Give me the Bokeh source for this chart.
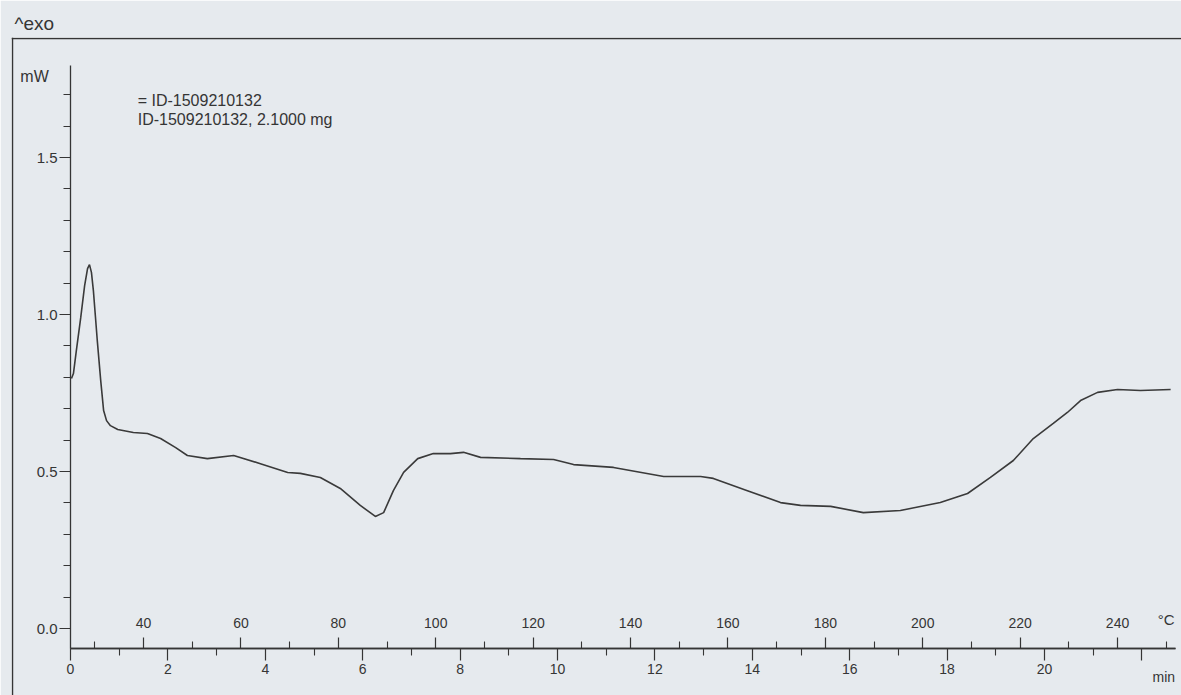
from bokeh.plotting import figure
from bokeh.models import Range1d, LinearAxis, FixedTicker, Label, Span, PrintfTickFormatter
from bokeh.embed import file_html
from bokeh.resources import INLINE

# ---- data ----
time_min = [0.02, 0.06, 0.12, 0.21, 0.29, 0.35, 0.39, 0.43, 0.47, 0.51, 0.55, 0.62,
            0.68, 0.74, 0.82, 0.97, 1.29, 1.58, 1.85, 2.16, 2.40, 2.81, 3.35, 3.90,
            4.46, 4.72, 5.13, 5.54, 5.95, 6.26, 6.43, 6.63, 6.84, 7.13, 7.45, 7.80,
            8.07, 8.42, 9.24, 9.92, 10.33, 11.15, 12.18, 12.94, 13.20, 13.90, 14.58,
            14.99, 15.61, 16.28, 17.04, 17.86, 18.42, 18.89, 19.36, 19.77, 20.18,
            20.47, 20.74, 21.09, 21.50, 21.97, 22.59]
heat_flow_mw = [0.796, 0.812, 0.885, 0.990, 1.092, 1.146, 1.159, 1.134, 1.076, 0.997, 0.917, 0.790,
                0.694, 0.662, 0.646, 0.634, 0.624, 0.621, 0.605, 0.576, 0.551, 0.541, 0.551, 0.525,
                0.497, 0.494, 0.481, 0.446, 0.392, 0.357, 0.369, 0.439, 0.497, 0.541, 0.557, 0.557,
                0.561, 0.545, 0.541, 0.538, 0.522, 0.513, 0.484, 0.484, 0.478, 0.439, 0.401,
                0.392, 0.389, 0.369, 0.376, 0.401, 0.430, 0.481, 0.535, 0.605, 0.653,
                0.688, 0.726, 0.752, 0.761, 0.758, 0.761]

time_ticks = [0, 2, 4, 6, 8, 10, 12, 14, 16, 18, 20, 22]
time_minor_ticks = [1, 3, 5, 7, 9, 11, 13, 15, 17, 19, 21]
time_label_overrides = {22: ""}
time_unit = "min"
temp_ticks = [40, 60, 80, 100, 120, 140, 160, 180, 200, 220, 240]
temp_minor_ticks = [30, 50, 70, 90, 110, 130, 150, 170, 190, 210, 230, 250]
temp_unit = "°C"
mw_ticks = [0.0, 0.5, 1.0, 1.5]
mw_minor_ticks = [0.1, 0.2, 0.3, 0.4, 0.6, 0.7, 0.8, 0.9, 1.1, 1.2, 1.3, 1.4, 1.6, 1.7]
start_temp_c = 25.0
heating_rate = 10.0   # K/min
legend_line1 = "= ID-1509210132"
legend_line2 = "ID-1509210132, 2.1000 mg"
y_unit = "mW"
exo_label = "^exo"

# ---- layout ----
W, H = 1181, 695
frame_left, frame_top = 11, 37
px_per_min, px_per_mw = 48.7, 314.0
t0_px, v0_px = 59.0, 591.0
x0 = -t0_px / px_per_min
x1 = x0 + (W - frame_left) / px_per_min
y1 = v0_px / px_per_mw
y0 = y1 - (H - frame_top) / px_per_mw
axis_v = -0.064
axis_top = 1.793
axis_end_t = 22.69

paper = "#e6eaee"
ink = "#353535"
font = "Liberation Sans"

p = figure(width=W, height=H, x_range=Range1d(x0, x1), y_range=Range1d(y0, y1),
           output_backend="svg", toolbar_location=None, x_axis_type=None, y_axis_type=None,
           min_border_left=frame_left, min_border_right=0, min_border_top=frame_top,
           min_border_bottom=0, title=exo_label)
p.background_fill_color = paper
p.border_fill_color = paper
p.outline_line_color = None
p.title.align = "left"
p.title.text_font = font
p.title.text_font_size = "19px"
p.title.text_font_style = "normal"
p.title.text_color = ink
p.title.offset = 3
p.title.standoff = 8

p.extra_x_ranges = {"temp": Range1d(start_temp_c + heating_rate * x0,
                                    start_temp_c + heating_rate * x1)}


def style(ax, size="14px"):
    ax.axis_line_color = ink
    ax.axis_line_width = 1.3
    ax.major_tick_line_color = ink
    ax.minor_tick_line_color = ink
    ax.major_tick_line_width = 1.2
    ax.minor_tick_line_width = 1.1
    ax.major_label_text_font = font
    ax.major_label_text_font_size = size
    ax.major_label_text_color = ink
    ax.major_tick_in = 0
    ax.minor_tick_in = 0


yax = LinearAxis(fixed_location=0, bounds=(axis_v, axis_top),
                 ticker=FixedTicker(ticks=mw_ticks, minor_ticks=mw_minor_ticks),
                 formatter=PrintfTickFormatter(format="%.1f"))
style(yax, "15px")
yax.major_tick_out = 11
yax.minor_tick_out = 7
yax.major_label_standoff = 2
p.add_layout(yax, "left")

xax = LinearAxis(fixed_location=axis_v, bounds=(0, axis_end_t),
                 ticker=FixedTicker(ticks=time_ticks, minor_ticks=time_minor_ticks),
                 major_label_overrides=time_label_overrides)
style(xax)
xax.major_tick_out = 12
xax.minor_tick_out = 7
xax.major_label_standoff = 3
p.add_layout(xax, "below")

tax = LinearAxis(x_range_name="temp", fixed_location=axis_v,
                 bounds=(start_temp_c, start_temp_c + heating_rate * axis_end_t),
                 ticker=FixedTicker(ticks=temp_ticks, minor_ticks=temp_minor_ticks))
style(tax)
tax.major_tick_out = 11
tax.minor_tick_out = 7
tax.major_label_standoff = 10
p.add_layout(tax, "above")

p.line(time_min, heat_flow_mw, line_color="#3a3a3a", line_width=1.6)

p.add_layout(Label(x=250, y=0.03, x_range_name="temp", text=temp_unit, text_align="center",
                   text_baseline="middle", text_font=font, text_font_size="15px", text_color=ink))
p.add_layout(Label(x=22.45, y=-0.155, text=time_unit, text_align="center", text_baseline="middle",
                   text_font=font, text_font_size="14px", text_color=ink))
p.add_layout(Label(x=-1.03, y=1.758, text=y_unit, text_align="left", text_baseline="middle",
                   text_font=font, text_font_size="16px", text_color=ink))
p.add_layout(Label(x=1.38, y=1.68, text=legend_line1, text_align="left", text_baseline="middle",
                   text_font=font, text_font_size="16px", text_color=ink))
p.add_layout(Label(x=1.38, y=1.62, text=legend_line2, text_align="left", text_baseline="middle",
                   text_font=font, text_font_size="16px", text_color=ink))

p.add_layout(Span(location=y1 - 0.003, dimension="width", line_color=ink, line_width=1.5))
p.add_layout(Span(location=x0 + 0.02, dimension="height", line_color=ink, line_width=1.5))

open("out.html", "w").write(file_html(p, INLINE))
